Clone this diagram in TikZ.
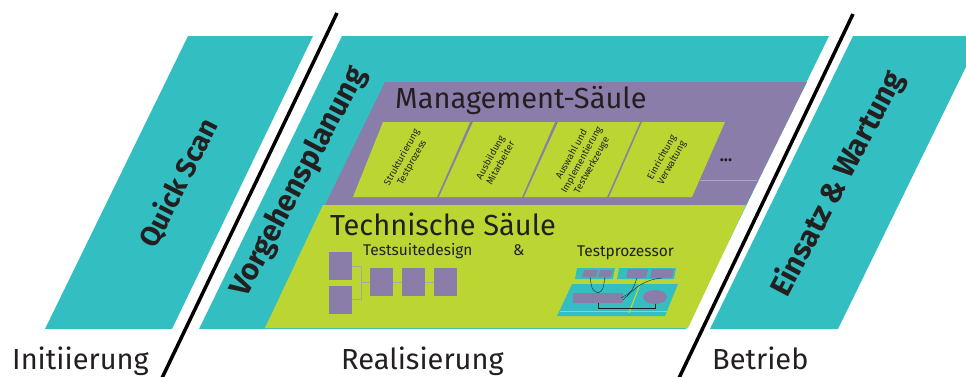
\documentclass[tikz,border=0pt]{standalone}
\usepackage{fontspec}
\setmainfont{Fira Sans}
\definecolor{tealc}{HTML}{33BFC1}
\definecolor{purp}{HTML}{8B7DA9}
\definecolor{limec}{HTML}{BBD633}
\definecolor{txt}{HTML}{231F20}
\begin{document}
\begin{tikzpicture}[x=1pt,y=-1pt,
  phase/.style={rotate=63,text=txt,font=\bfseries\fontsize{28}{28}\selectfont},
  bottomlbl/.style={anchor=base west,text=txt,inner sep=0,font=\fontsize{29}{29}\selectfont},
  title/.style={anchor=base west,text=txt,inner sep=0,font=\fontsize{29}{29}\selectfont},
  sub/.style={anchor=base west,text=txt,inner sep=0,font=\fontsize{15.5}{15.5}\selectfont},
  mgmt/.style={rotate=61,text=txt,align=center,inner sep=0,font=\fontsize{9.5}{11.5}\selectfont},
  tbox/.style={fill=purp,draw=none,minimum width=23pt,minimum height=28pt,inner sep=0},
  conn/.style={draw=gray!70,line width=0.8pt},
  sep/.style={line width=3.5pt,black}]
\useasboundingbox (0,0) rectangle (966,376);
% phases
\fill[tealc] (188,36) -- (313,36) -- (172,329) -- (45,329) -- cycle;
\fill[tealc] (342,36) -- (829,36) -- (686,329) -- (199,329) -- cycle;
\fill[tealc] (853,36) -- (981,36) -- (838,329) -- (710,329) -- cycle;
% management
\fill[purp] (385,82) -- (807,82) -- (746,205) -- (325,205) -- cycle;
\draw[purp!70!white,line width=0.5pt] (700,180) -- (757,180);
\fill[limec] (383,122) -- (470,122) -- (437,197) -- (353,197) -- cycle;
\fill[limec] (473,122) -- (555,122) -- (522,197) -- (439,197) -- cycle;
\fill[limec] (558,122) -- (640,122) -- (607,197) -- (524,197) -- cycle;
\fill[limec] (642,122) -- (725,122) -- (692,197) -- (609,197) -- cycle;
% technical
\fill[limec] (323,205) -- (746,205) -- (688,328) -- (265,328) -- cycle;
% separators
\coordinate (s1a) at (337,13); \coordinate (s1b) at (162,378);
\coordinate (s2a) at (853,14); \coordinate (s2b) at (679,378);
\draw[sep] (s1a) -- (s1b);
\draw[sep] (s2a) -- (s2b);
% phase labels
\node[phase] (qs) at (179,183) {Quick Scan};
\node[phase,rotate=-1,font=\bfseries\fontsize{30}{30}\selectfont] (vp) at (299,182) {Vorgehensplanung};
\node[phase,rotate=-1,font=\bfseries\fontsize{30}{30}\selectfont] (ew) at (838,184) {Einsatz \& Wartung};
% bottom labels
\node[bottomlbl] (ini) at (12,369) {Initiierung};
\node[bottomlbl] (rea) at (341,369) {Realisierung};
\node[bottomlbl] (bet) at (712,369) {Betrieb};
% management content
\node[title] (mt) at (395,108) {Management-Säule};
\node[mgmt] (m1) at (407,160) {Strukturierung\\Testprozess};
\node[mgmt] (m2) at (495,160) {Ausbildung\\Mitarbeiter};
\node[mgmt] (m3) at (582,160) {Auswahl und\\Implementierung\\Testwerkzeuge};
\node[mgmt] (m4) at (667,160) {Einrichtung\\Verwaltung};
\node[text=txt,font=\bfseries\fontsize{17}{17}\selectfont,inner sep=0] (dots) at (726,160) {...};
% technical content
\node[title] (tt) at (330,235) {Technische Säule};
\node[sub] (tsd) at (363,255) {Testsuitedesign};
\node[sub] (amp) at (513,255) {\&};
\node[sub] (tp) at (577,256) {Testprozessor};
% testsuite boxes
\node[tbox] (b1) at (340.5,266) {};
\node[tbox] (b2) at (340.5,299.5) {};
\node[tbox] (b3) at (381.5,282) {};
\node[tbox] (b4) at (413.5,282) {};
\node[tbox] (b5) at (445.5,282) {};
\draw[conn] (b1.east) -| (361,282);
\draw[conn] (b2.east) -| (361,282);
\draw[conn] (361,282) -- (b3.west);
\draw[conn] (b3.east) -- (b4.west);
\draw[conn] (b4.east) -- (b5.west);
% mini testprozessor diagram
\fill[tealc] (577,268) -- (615,268) -- (613,279) -- (575,279) -- cycle;
\fill[tealc] (619,268) -- (676,268) -- (674,279) -- (617,279) -- cycle;
\fill[purp] (584,270) -- (598,270) -- (596,277) -- (582,277) -- cycle;
\fill[purp] (600,270) -- (613,270) -- (611,277) -- (598,277) -- cycle;
\fill[purp] (628,269) -- (648,269) -- (646,278) -- (626,278) -- cycle;
\fill[purp] (652,269) -- (674,269) -- (672,278) -- (650,278) -- cycle;
\fill[tealc] (572,284) -- (678,284) -- (665,316) -- (557,316) -- cycle;
\draw[limec,line width=1pt] (560,311.5) -- (667,311.5);
\draw[limec,line width=1.2pt] (640,284) -- (629,313);
\fill[purp] (573,293) rectangle (623,303);
\fill[purp] (655,297) ellipse [x radius=12, y radius=7];
\draw[txt,line width=0.4pt] (590,277) .. controls (592,290) .. (598,293);
\draw[txt,line width=0.4pt] (605,277) .. controls (603,290) .. (598,293);
\draw[txt,line width=0.4pt] (637,278) .. controls (632,292) .. (621,298);
\draw[txt,line width=0.4pt] (662,278) .. controls (640,280) and (632,292) .. (623,300);
\draw[txt,line width=0.4pt] (598,303) -- (598,308) -- (655,308) -- (655,304);
\end{tikzpicture}
\end{document}
